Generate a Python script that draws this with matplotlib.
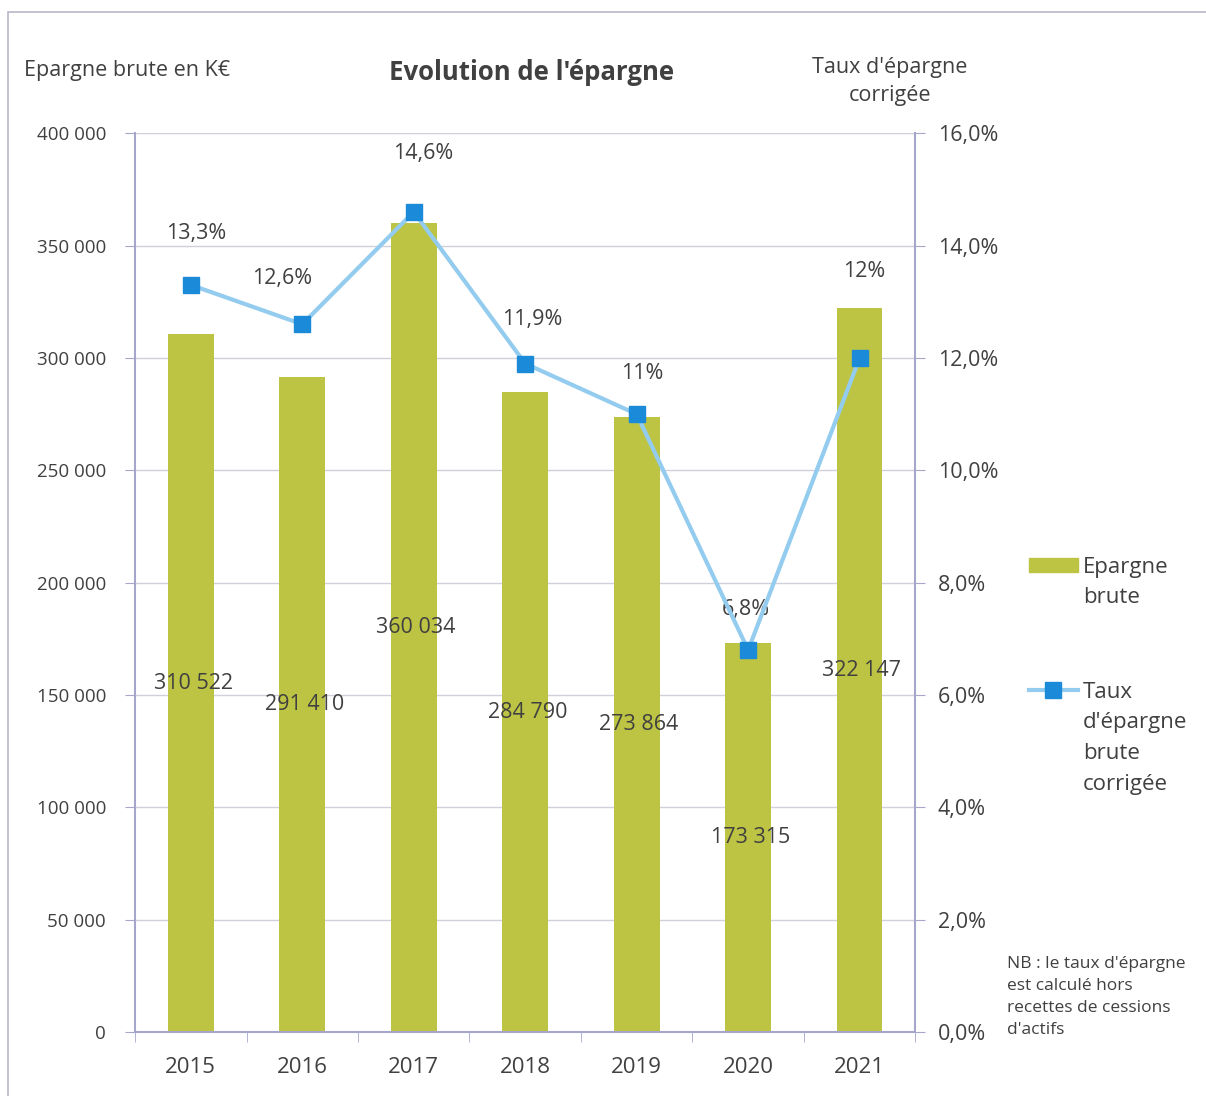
import numpy as np
import matplotlib.pyplot as plt
from matplotlib.patches import Rectangle
from matplotlib.lines import Line2D
from matplotlib.ticker import FuncFormatter

plt.rcParams['font.family'] = ['Open Sans', 'DejaVu Sans']

annees = ['2015', '2016', '2017', '2018', '2019', '2020', '2021']
epargne_brute = [310522, 291410, 360034, 284790, 273864, 173315, 322147]
taux_epargne = [13.3, 12.6, 14.6, 11.9, 11.0, 6.8, 12.0]
taux_labels = ['13,3%', '12,6%', '14,6%', '11,9%', '11%', '6,8%', '12%']

txt = '#404040'
axe_col = '#A6A6CC'
vert = '#BDC443'
bleu_ligne = '#93CCEE'
bleu_marq = '#1B8AD8'

fig = plt.figure(figsize=(12.06, 10.96), dpi=100)
ax = fig.add_axes([0.112, 0.0584, 0.647, 0.820])
x = np.arange(len(annees))

ax.bar(x, epargne_brute, width=0.41, color=vert, zorder=2)
ax.set_ylim(0, 400000)
ax.set_xlim(-0.5, len(annees) - 0.5)
ax.set_yticks(np.arange(0, 400001, 50000))
ax.yaxis.set_major_formatter(FuncFormatter(lambda v, p: f'{int(v):,}'.replace(',', ' ')))
ax.grid(axis='y', color='#D0D0DA', lw=1, zorder=0)
ax.set_xticks(x)
ax.set_xticklabels(annees)
ax.set_xticks(np.arange(-0.5, len(annees)), minor=True)
ax.tick_params(axis='x', which='major', length=0, pad=18, labelsize=16, labelcolor=txt)
ax.tick_params(axis='x', which='minor', length=7, color=axe_col)
ax.tick_params(axis='y', length=7, color=axe_col, labelsize=13.5, labelcolor=txt, pad=14)
for s in ['top', 'right']:
    ax.spines[s].set_visible(False)
for s in ['left', 'bottom']:
    ax.spines[s].set_color(axe_col)
    ax.spines[s].set_linewidth(1.5)

for xi, v in zip(x, epargne_brute):
    ax.text(xi + 0.02, v / 2, f'{v:,}'.replace(',', ' '), ha='center', va='center',
            fontsize=15.5, color=txt, zorder=5)

ax2 = ax.twinx()
ax2.set_ylim(0, 16)
ax2.set_yticks(np.arange(0, 16.1, 2))
ax2.yaxis.set_major_formatter(FuncFormatter(lambda v, p: f'{v:.1f}%'.replace('.', ',')))
ax2.tick_params(axis='y', length=7, color=axe_col, labelsize=15.5, labelcolor=txt, pad=9)
for s in ['top', 'left', 'bottom']:
    ax2.spines[s].set_visible(False)
ax2.spines['right'].set_color(axe_col)
ax2.spines['right'].set_linewidth(1.5)
ax2.plot(x, taux_epargne, color=bleu_ligne, lw=3, marker='s', markersize=12,
         markerfacecolor=bleu_marq, markeredgecolor=bleu_marq, zorder=4)

decal = [(3.6, 37), (-14.4, 33), (6.5, 42), (5, 32), (4.3, 29.5), (-1.4, 29), (3, 62)]
for xi, t, lab, (dx, dy) in zip(x, taux_epargne, taux_labels, decal):
    ax2.annotate(lab, (xi, t), xytext=(dx, dy), textcoords='offset points',
                 ha='center', va='center', fontsize=15.5, color=txt)

fig.text(0.0199, 0.936, 'Epargne brute en K€', fontsize=15.5, color=txt, va='center')
fig.text(0.441, 0.934, "Evolution de l'épargne", fontsize=18.5, fontweight='bold',
         color=txt, ha='center', va='center')
fig.text(0.738, 0.926, "Taux d'épargne\ncorrigée", fontsize=15.5, color=txt,
         ha='center', va='center', linespacing=1.45)

# légende
fig.add_artist(Rectangle((0.853, 0.478), 0.041, 0.013, transform=fig.transFigure,
                         color=vert))
fig.text(0.898, 0.4845 + 0.0075, 'Epargne\nbrute', fontsize=16, color=txt, va='top',
         linespacing=1.6)
fig.add_artist(Line2D([0.853, 0.894], [0.3704, 0.3704], transform=fig.transFigure,
                      color=bleu_ligne, lw=3))
fig.add_artist(Line2D([0.8735], [0.3704], transform=fig.transFigure, marker='s',
                      markersize=12, color=bleu_marq))
fig.text(0.898, 0.3704 + 0.0075, "Taux\nd'épargne\nbrute\ncorrigée", fontsize=16,
         color=txt, va='top', linespacing=1.6)

fig.text(0.835, 0.128, "NB : le taux d'épargne\nest calculé hors\nrecettes de cessions\nd'actifs",
         fontsize=12.5, color=txt, va='top', linespacing=1.5)

fig.add_artist(Rectangle((0.007, -0.01), 1.1, 0.999, transform=fig.transFigure,
                         fill=False, ec='#B8B8C8', lw=1.2))

fig.savefig('out.png', dpi=100)
